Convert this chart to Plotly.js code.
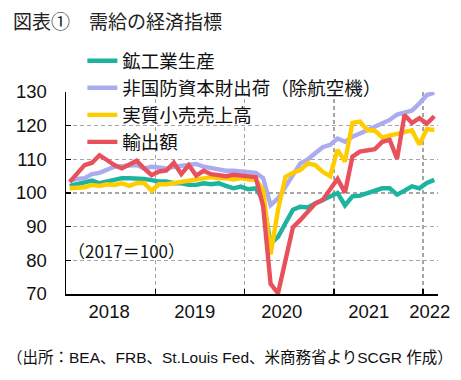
<!DOCTYPE html>
<html>
<head>
<meta charset="utf-8">
<script src="https://cdn.plot.ly/plotly-3.0.1.min.js"></script>
<style>
html,body{margin:0;padding:0;background:#fff;}
#chart{width:461px;height:380px;}
</style>
</head>
<body>
<div id="chart"></div>
<script>
// Months: Jan 2018 .. Feb 2022 (index 2017=100)
const months = [
 "2018-01","2018-02","2018-03","2018-04","2018-05","2018-06","2018-07","2018-08","2018-09","2018-10","2018-11","2018-12",
 "2019-01","2019-02","2019-03","2019-04","2019-05","2019-06","2019-07","2019-08","2019-09","2019-10","2019-11","2019-12",
 "2020-01","2020-02","2020-03","2020-04","2020-05","2020-06","2020-07","2020-08","2020-09","2020-10","2020-11","2020-12",
 "2021-01","2021-02","2021-03","2021-04","2021-05","2021-06","2021-07","2021-08","2021-09","2021-10","2021-11","2021-12",
 "2022-01","2022-02"
];
const industrialProduction = [
 102.1,102.6,102.9,103.7,102.9,103.4,103.9,104.4,104.4,104.4,104.2,103.8,
 103.4,103.4,102.9,102.9,102.4,102.4,102.9,102.6,102.9,102.1,101.4,101.9,
 101.1,101.4,97.9,85.0,87.0,91.0,95.0,95.9,95.7,96.9,97.9,98.9,
 100.0,96.3,99.0,99.2,100.0,100.5,101.4,101.4,99.5,100.7,102.0,101.4,
 103.0,103.9
];
const coreCapitalGoods = [
 103.5,104.2,104.4,105.6,106.0,106.8,107.8,108.0,108.0,108.3,107.3,107.8,
 107.6,107.3,107.8,108.0,108.3,108.6,107.8,107.3,106.8,106.6,106.6,106.4,
 106.3,106.0,104.4,96.4,98.4,101.9,104.8,108.8,110.0,111.8,113.6,114.3,
 116.2,115.2,116.7,117.7,118.7,119.7,120.7,121.7,123.3,123.9,124.5,126.6,
 129.1,129.8
];
const realRetailSales = [
 101.4,101.4,101.7,102.4,102.1,102.6,102.4,102.9,102.1,102.9,103.0,100.7,
 102.6,102.6,103.0,103.4,103.6,104.0,104.4,104.7,104.4,104.4,104.0,104.4,
 104.0,104.0,100.9,81.8,95.0,104.8,106.0,106.8,108.8,108.3,106.3,105.0,
 112.8,109.3,120.8,121.2,118.7,118.5,116.5,117.0,117.5,117.8,118.6,114.4,
 119.0,118.7
];
const exportsValue = [
 103.3,105.8,108.3,109.0,111.2,109.8,108.3,107.3,108.4,109.6,107.3,105.3,
 106.4,106.7,109.0,105.6,108.3,105.2,106.6,105.6,105.3,105.0,105.4,105.2,
 104.8,104.7,96.0,73.0,70.2,80.1,89.8,92.0,94.4,96.9,97.9,100.9,
 104.2,100.1,110.8,112.3,112.8,113.0,115.2,115.8,110.2,123.2,120.8,122.2,
 120.6,122.8
];
const seriesNames = ["鉱工業生産","非国防資本財出荷（除航空機）","実質小売売上高","輸出額"];
const yearLabels = ["2018","2019","2020","2021","2022"];
const yearLabelPos = [5.3,16.8,28.5,40.2,48.4];      // month-index positions of year labels
const yearBoundaries = [11.5,23.5,35.5,47.5];         // between Dec and Jan
const yTicks = [70,80,90,100,110,120,130];

const xIdx = months.map((m,i)=>i);
const colors = ["#1CB39F","#ABABEF","#FFCC00","#E8505C"];
const values = [industrialProduction, coreCapitalGoods, realRetailSales, exportsValue];

const FONT = 'Liberation Sans, "Noto Sans CJK JP", sans-serif';
const CJK = '"Noto Sans CJK JP", Liberation Sans, sans-serif';

const traces = values.map((v,k)=>({
  x: xIdx, y: v, name: seriesNames[k], type: 'scatter', mode: 'lines',
  line: {color: colors[k], width: 4.4}, hoverinfo: 'skip'
}));
traces.push({x: [], y: [], xaxis: 'x2', yaxis: 'y', showlegend: false, type: 'scatter', mode: 'lines'});

const layout = {
  width: 461, height: 380,
  margin: {l: 66, r: 23, t: 92, b: 86},
  paper_bgcolor: '#fff', plot_bgcolor: '#fff',
  font: {family: FONT, size: 18, color: '#111'},
  showlegend: true,
  title: {text: '図表①　需給の経済指標', x: 13/461, xanchor: 'left', xref: 'container',
          y: 1 - 22/380, yref: 'container', yanchor: 'middle',
          font: {family: CJK, size: 19, color: '#222'}},
  legend: {x: 0.044, xanchor: 'left', y: 1.2465, yanchor: 'top', bgcolor: 'rgba(0,0,0,0)',
           font: {family: CJK, size: 18.5, color: '#111'}, tracegroupgap: 0, itemwidth: 30},
  xaxis: {
    type: 'linear', range: [-0.5, 49.5], fixedrange: true,
    tickmode: 'array', tickvals: yearBoundaries, showticklabels: false,
    ticks: 'inside', ticklen: 5, tickwidth: 1.5, tickcolor: '#000',
    showgrid: true, gridcolor: '#A6A6A6', gridwidth: 1.5, griddash: '4px,3px',
    showline: true, linecolor: '#000', linewidth: 1.5, zeroline: false
  },
  xaxis2: {
    type: 'linear', range: [-0.5, 49.5], overlaying: 'x', anchor: 'y', side: 'bottom',
    tickmode: 'array', tickvals: yearLabelPos, ticktext: yearLabels,
    ticks: '', showgrid: false, showline: false, zeroline: false, ticklabelstandoff: 4,
    tickfont: {family: FONT, size: 18.5, color: '#111'}
  },
  yaxis: {
    range: [70, 130], tickmode: 'array', tickvals: yTicks, fixedrange: true,
    ticks: 'inside', ticklen: 5, tickwidth: 1.5, tickcolor: '#000',
    showgrid: true, gridcolor: '#A6A6A6', gridwidth: 1.5, griddash: '4px,3px',
    showline: true, linecolor: '#000', linewidth: 1.5, zeroline: false,
    ticklabelstandoff: 14,
    tickfont: {family: FONT, size: 18.5, color: '#111'}
  },
  annotations: [
    {text: '（2017＝100）', xref: 'paper', yref: 'y', x: 0.0, y: 82.8, xanchor: 'left', yanchor: 'middle',
     showarrow: false, font: {family: CJK, size: 17, color: '#111'}},
    {text: '（出所：BEA、FRB、St.Louis Fed、米商務省よりSCGR 作成）', xref: 'paper', yref: 'paper',
     x: (230 - 66) / 372, y: (294 - 357) / 202, xanchor: 'center', yanchor: 'middle', showarrow: false,
     font: {family: FONT, size: 15.5, color: '#111'}}
  ]
};

Plotly.newPlot('chart', traces, layout, {displayModeBar: false, staticPlot: true});
</script>
</body>
</html>
